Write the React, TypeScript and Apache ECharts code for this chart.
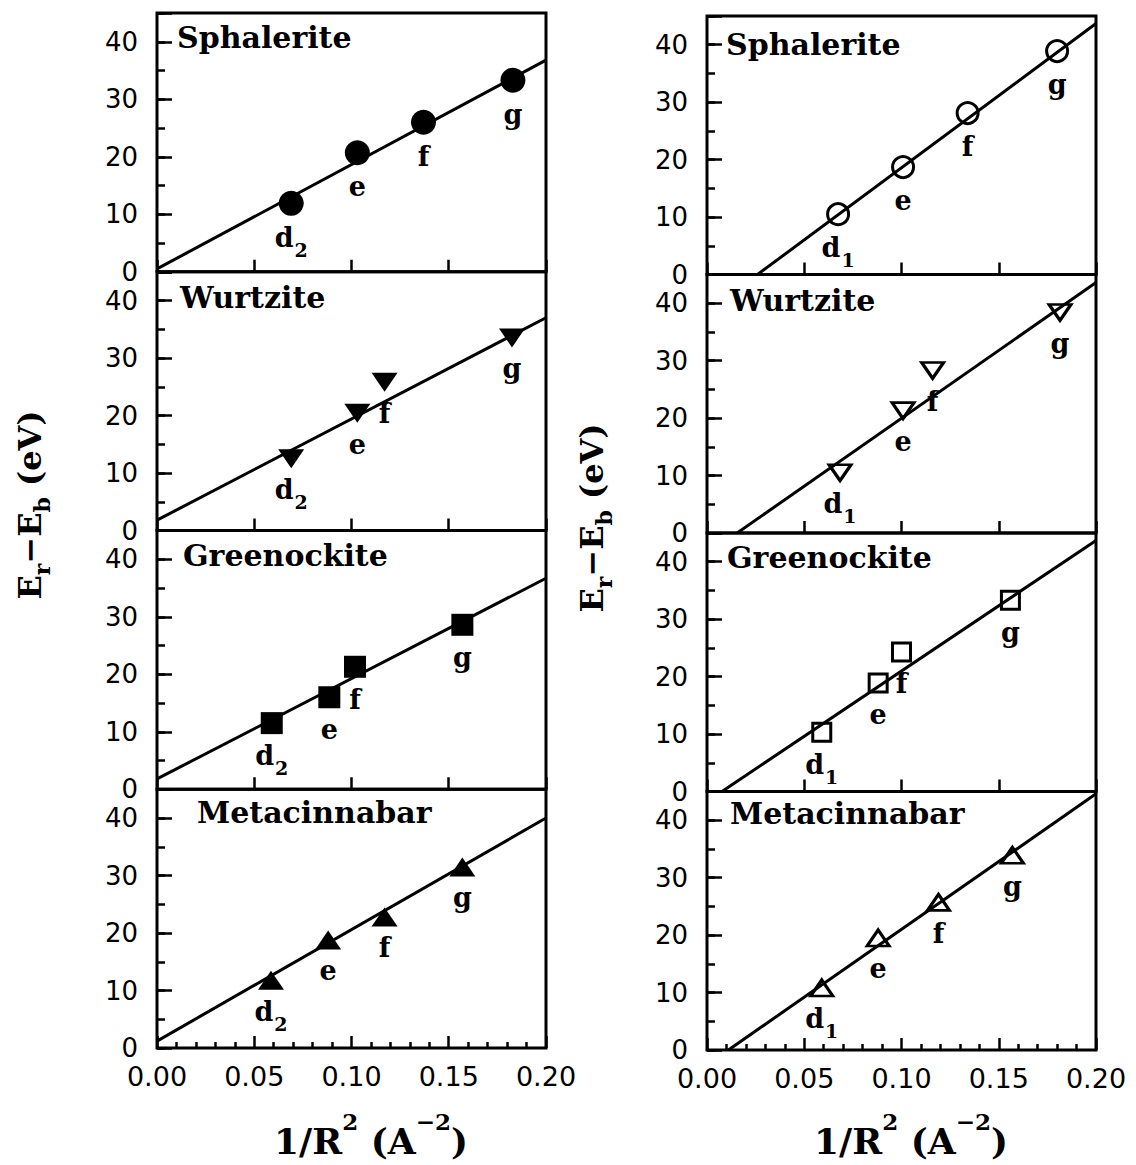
import React, { useEffect, useRef } from "react";
import * as echarts from "echarts";

const SERIF = '"DejaVu Serif", "Liberation Serif", serif';
const SANS = '"DejaVu Sans", "Liberation Sans", sans-serif';

// Mineral names, one per row of panels
const minerals = ["Sphalerite", "Wurtzite", "Greenockite", "Metacinnabar"];
// Resonance labels (d carries a subscript: 2 on the left, 1 on the right)
const levelNames = ["d", "e", "f", "g"];
const leftSubscript = "2";
const rightSubscript = "1";

// y-axis ticks
const yMajorTicks = [0, 10, 20, 30, 40];
const xTickLabels = ["0.00", "0.05", "0.10", "0.15", "0.20"];

// ---- Left column (filled symbols): 1/R^2 (A^-2) and Er - Eb (eV)
const sphaleriteLeftX = [0.069, 0.103, 0.137, 0.183];
const sphaleriteLeftY = [11.9, 20.7, 26.0, 33.3];
const sphaleriteLeftFit = [[0, 0.5], [0.2, 36.8]];

const wurtziteLeftX = [0.069, 0.103, 0.117, 0.1825];
const wurtziteLeftY = [12.5, 20.4, 25.8, 33.5];
const wurtziteLeftFit = [[0, 1.8], [0.2, 37.0]];

const greenockiteLeftX = [0.059, 0.0886, 0.1018, 0.157];
const greenockiteLeftY = [11.5, 16.0, 21.3, 28.6];
const greenockiteLeftFit = [[0, 1.8], [0.2, 36.7]];

const metacinnabarLeftX = [0.0586, 0.088, 0.117, 0.157];
const metacinnabarLeftY = [11.8, 18.8, 22.8, 31.5];
const metacinnabarLeftFit = [[0, 1.2], [0.2, 40.0]];

// ---- Right column (open symbols)
const sphaleriteRightX = [0.0674, 0.1008, 0.134, 0.18];
const sphaleriteRightY = [10.5, 18.7, 28.1, 38.9];
const sphaleriteRightFit = [[0.026, 0], [0.2, 43.7]];

const wurtziteRightX = [0.0684, 0.1008, 0.116, 0.1815];
const wurtziteRightY = [10.5, 21.3, 28.3, 38.4];
const wurtziteRightFit = [[0.0155, 0], [0.2, 43.6]];

const greenockiteRightX = [0.059, 0.088, 0.1, 0.156];
const greenockiteRightY = [10.3, 18.9, 24.3, 33.3];
const greenockiteRightFit = [[0.0077, 0], [0.2, 43.7]];

const metacinnabarRightX = [0.059, 0.088, 0.119, 0.157];
const metacinnabarRightY = [10.8, 19.5, 25.7, 33.9];
const metacinnabarRightFit = [[0.011, 0], [0.2, 44.6]];

const leftPanels = [
  { x: sphaleriteLeftX, y: sphaleriteLeftY, fit: sphaleriteLeftFit },
  { x: wurtziteLeftX, y: wurtziteLeftY, fit: wurtziteLeftFit },
  { x: greenockiteLeftX, y: greenockiteLeftY, fit: greenockiteLeftFit },
  { x: metacinnabarLeftX, y: metacinnabarLeftY, fit: metacinnabarLeftFit },
];
const rightPanels = [
  { x: sphaleriteRightX, y: sphaleriteRightY, fit: sphaleriteRightFit },
  { x: wurtziteRightX, y: wurtziteRightY, fit: wurtziteRightFit },
  { x: greenockiteRightX, y: greenockiteRightY, fit: greenockiteRightFit },
  { x: metacinnabarRightX, y: metacinnabarRightY, fit: metacinnabarRightFit },
];

// Marker shape per mineral row
const rowSymbols = [
  { symbol: "circle", rotate: 0, filled: 25, open: 21 },
  { symbol: "triangle", rotate: 180, filled: [26, 19], open: [22, 16] },
  { symbol: "rect", rotate: 0, filled: 22, open: 18 },
  { symbol: "triangle", rotate: 0, filled: [26, 19], open: [22, 16] },
];

// Column layout
const columns = [
  {
    panels: leftPanels,
    subscript: leftSubscript,
    filled: true,
    left: 157,
    top: 13,
    width: 389,
    height: 258.75,
    titleX: [177, 180, 183, 197],
    titleDy: [24, 26, 25, 23],
    yTitle: { x: 42, y: 505 },
    xTitle: { x: 371, y: 1121 },
  },
  {
    panels: rightPanels,
    subscript: rightSubscript,
    filled: false,
    left: 707,
    top: 16,
    width: 389,
    height: 258.5,
    titleX: [726, 730, 727, 730],
    titleDy: [28, 26, 24, 22],
    yTitle: { x: 604, y: 518 },
    xTitle: { x: 911, y: 1121 },
  },
];

const pointRich = {
  m: {
    fontFamily: SERIF,
    fontWeight: "bold",
    fontSize: 27,
    color: "#000",
    lineHeight: 28,
    verticalAlign: "top",
  },
  s: {
    fontFamily: SERIF,
    fontWeight: "bold",
    fontSize: 19,
    color: "#000",
    lineHeight: 52,
    padding: [0, 0, 0, 1],
  },
};

function buildOption() {
  const grid: any[] = [];
  const xAxis: any[] = [];
  const yAxis: any[] = [];
  const series: any[] = [];
  const graphic: any[] = [];

  columns.forEach((col, c) => {
    col.panels.forEach((panel, r) => {
      const k = c * 4 + r;
      const isBottom = r === 3;
      grid.push({
        left: col.left,
        top: col.top + r * col.height,
        width: col.width,
        height: col.height,
        show: true,
        borderColor: "#000",
        borderWidth: 3,
        backgroundColor: "transparent",
      });
      xAxis.push({
        type: "value",
        gridIndex: k,
        min: 0,
        max: 0.2,
        interval: 0.05,
        axisLine: { show: false },
        splitLine: { show: false },
        axisTick: {
          show: true,
          inside: true,
          length: 12,
          lineStyle: { color: "#000", width: 2.5 },
        },
        minorTick: {
          show: isBottom,
          splitNumber: 5,
          length: 6,
          lineStyle: { color: "#000", width: 2.5 },
        },
        axisLabel: {
          show: isBottom,
          margin: 15,
          color: "#000",
          fontFamily: SANS,
          fontSize: 27,
          formatter: (v: number) => {
            const i = Math.round(v / 0.05);
            return xTickLabels[i] ?? "";
          },
        },
      });
      // major ticks with labels
      yAxis.push({
        type: "value",
        gridIndex: k,
        position: "left",
        min: 0,
        max: 45,
        interval: 10,
        axisLine: { show: false },
        splitLine: { show: false },
        axisTick: {
          show: true,
          inside: true,
          length: 15,
          lineStyle: { color: "#000", width: 2.5 },
        },
        axisLabel: {
          margin: 19,
          color: "#000",
          fontFamily: SANS,
          fontSize: 26,
          lineHeight: 22,
          formatter: (v: number) =>
            yMajorTicks.indexOf(v) >= 0 ? String(v) : "",
        },
      });
      // minor ticks every 5 eV
      yAxis.push({
        type: "value",
        gridIndex: k,
        position: "left",
        min: 0,
        max: 45,
        interval: 5,
        axisLine: { show: false },
        splitLine: { show: false },
        axisTick: {
          show: true,
          inside: true,
          length: 8,
          lineStyle: { color: "#000", width: 2.5 },
        },
        axisLabel: { show: false },
      });

      const sym = rowSymbols[r];
      series.push({
        type: "line",
        xAxisIndex: k,
        yAxisIndex: 2 * k,
        data: panel.fit,
        showSymbol: false,
        symbol: "none",
        lineStyle: { color: "#000", width: 3 },
        silent: true,
        z: 2,
      });
      series.push({
        type: "scatter",
        xAxisIndex: k,
        yAxisIndex: 2 * k,
        symbol: sym.symbol,
        symbolRotate: sym.rotate,
        symbolSize: col.filled ? sym.filled : sym.open,
        itemStyle: col.filled
          ? { color: "#000", opacity: 1 }
          : {
              color: "rgba(255,255,255,0)",
              borderColor: "#000",
              borderWidth: 3,
              opacity: 1,
            },
        data: panel.x.map((xv, i) => ({
          value: [xv, panel.y[i]],
          name: levelNames[i],
        })),
        label: {
          show: true,
          position: "bottom",
          distance: 8,
          color: "#000",
          textBorderWidth: 0,
          opacity: 1,
          formatter: (p: any) =>
            p.name === "d"
              ? `{m|d}{s|${col.subscript}}`
              : `{m|${p.name}}`,
          rich: pointRich,
        },
        silent: true,
        z: 3,
      });

      // mineral name in the upper-left corner of each panel
      graphic.push({
        type: "text",
        x: col.titleX[r],
        y: col.top + r * col.height + col.titleDy[r],
        style: {
          text: minerals[r],
          fill: "#000",
          font: `bold 30px ${SERIF}`,
          align: "left",
          verticalAlign: "middle",
        },
        z: 10,
      });
    });

    // y-axis title: Er - Eb (eV), rotated
    graphic.push({
      type: "text",
      x: col.yTitle.x,
      y: col.yTitle.y,
      rotation: Math.PI / 2,
      style: {
        text: "{m|E}{s|r}{m|\u2212E}{s|b}{m| (eV)}",
        align: "center",
        verticalAlign: "middle",
        rich: {
          m: {
            fontFamily: SERIF,
            fontWeight: "bold",
            fontSize: 32,
            fill: "#000",
            lineHeight: 32,
            verticalAlign: "top",
          },
          s: {
            fontFamily: SERIF,
            fontWeight: "bold",
            fontSize: 22,
            fill: "#000",
            lineHeight: 56,
          },
        },
      },
      z: 10,
    });

    // x-axis title: 1/R^2 (A^-2)
    graphic.push({
      type: "text",
      x: col.xTitle.x,
      y: col.xTitle.y,
      style: {
        text: "{m|1/R}{p|2}{m| (A}{p|\u22122}{m|)}",
        align: "center",
        verticalAlign: "middle",
        rich: {
          m: {
            fontFamily: SERIF,
            fontWeight: "bold",
            fontSize: 36,
            fill: "#000",
            lineHeight: 36,
            verticalAlign: "bottom",
          },
          p: {
            fontFamily: SERIF,
            fontWeight: "bold",
            fontSize: 23,
            fill: "#000",
            lineHeight: 76,
          },
        },
      },
      z: 10,
    });
  });

  return {
    animation: false,
    backgroundColor: "#fff",
    grid,
    xAxis,
    yAxis,
    series,
    graphic,
  };
}

export default function App() {
  const ref = useRef<HTMLDivElement>(null);

  useEffect(() => {
    if (!ref.current) return;
    const chart = echarts.init(ref.current, undefined, { renderer: "svg" });
    chart.setOption(buildOption() as any);
    return () => chart.dispose();
  }, []);

  return (
    <div
      ref={ref}
      style={{
        position: "absolute",
        left: 0,
        top: 0,
        width: 1136,
        height: 1165,
        background: "#fff",
      }}
    />
  );
}
